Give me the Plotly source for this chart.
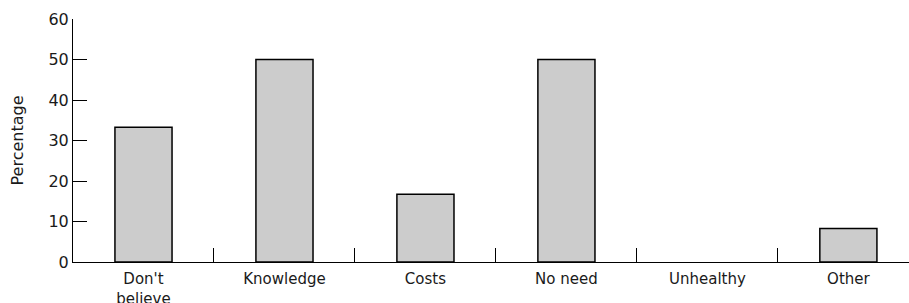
import plotly.graph_objects as go

categories = ["Don't<br>believe", "Knowledge", "Costs", "No need", "Unhealthy", "Other"]
percentages = [33.3, 50.0, 16.7, 50.0, 0.0, 8.3]
y_ticks = [0, 10, 20, 30, 40, 50, 60]

font_family = "DejaVu Sans"

outline_widths = [1.5 if v > 0 else 0 for v in percentages]

fig = go.Figure(go.Bar(
    x=categories,
    y=percentages,
    marker=dict(color="#cccccc", line=dict(color="black", width=outline_widths)),
    width=0.405,
))

fig.update_layout(
    width=909, height=303,
    margin=dict(l=73, r=0, t=19, b=41),
    plot_bgcolor="white", paper_bgcolor="white",
    showlegend=False,
    font=dict(family=font_family, size=15, color="#1a1a1a"),
)
fig.update_xaxes(
    type="category",
    range=[-0.5, 5.43],
    tickson="boundaries",
    ticks="inside", ticklen=14, tickwidth=1, tickcolor="black",
    showline=True, linecolor="black", linewidth=1,
    showgrid=False, zeroline=False,
    tickfont=dict(size=15),
    ticklabelstandoff=3,
    automargin=False,
)
fig.update_yaxes(
    range=[0, 60],
    tickvals=y_ticks,
    ticks="inside", ticklen=14, tickwidth=1, tickcolor="black",
    showline=True, linecolor="black", linewidth=1,
    showgrid=False, zeroline=False,
    title=dict(text="Percentage", font=dict(size=16), standoff=20),
    tickfont=dict(size=16),
    automargin=False,
)

fig.write_html(
    "out.html",
    config={"displayModeBar": False},
    post_script="document.body.style.margin='0';document.body.style.overflow='hidden';",
)
